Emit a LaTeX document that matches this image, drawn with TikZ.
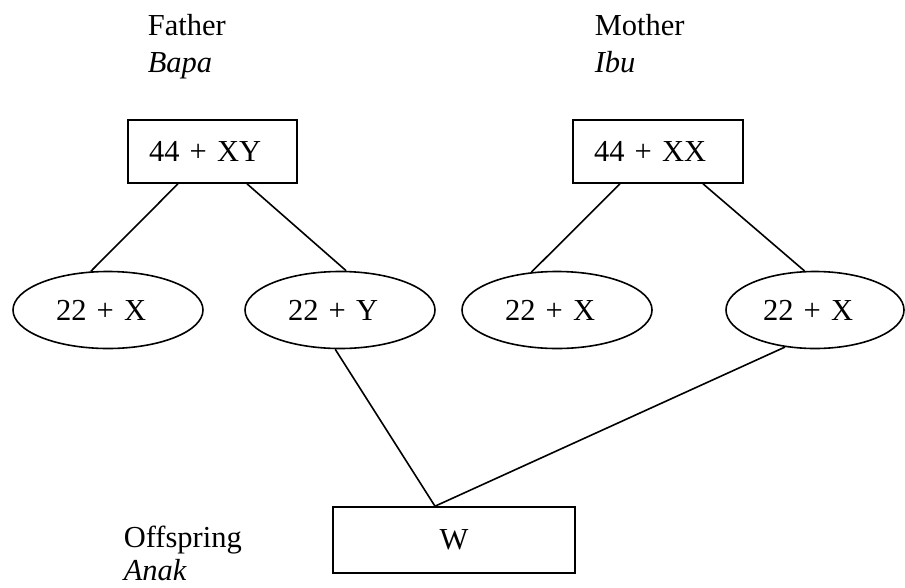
\documentclass[tikz,border=0pt]{standalone}
\usepackage{fontspec}
\setmainfont{Liberation Serif}
\usetikzlibrary{shapes.geometric}
\begin{document}
\begin{tikzpicture}[x=1pt,y=-1pt,line width=1.6pt,
  every node/.style={font=\fontsize{30.5}{37}\selectfont},
  lbl/.style={anchor=base west,inner sep=0pt},
  parentbox/.style={draw,rectangle,inner xsep=21pt,inner ysep=0pt,minimum height=63pt,text width=#1,align=left},
  gamete/.style={draw,ellipse,inner sep=0pt,minimum width=#1,minimum height=77pt,text width=104pt,align=left},
  childbox/.style={draw,rectangle,minimum width=242pt,minimum height=66pt}]
\useasboundingbox (0,0) rectangle (905,587);
% labels
\node[lbl] (father) at (147,35) {Father};
\node[lbl] (bapa) at (147,72) {\itshape Bapa};
\node[lbl] (mother) at (594,35) {Mother};
\node[lbl] (ibu) at (594,72) {\itshape Ibu};
\node[lbl] (offspring) at (123,547) {Offspring};
\node[lbl] (anak) at (123,580) {\itshape Anak};
% parents
\node[parentbox=127pt] (b1) at (212.5,151.5) {44 + XY};
\node[parentbox=128pt] (b2) at (658,151.5) {44 + XX};
% gametes
\node[gamete=190pt] (e1) at (108,310) {22 + X};
\node[gamete=190pt] (e2) at (340,310) {22 + Y};
\node[gamete=190pt] (e3) at (557,310) {22 + X};
\node[gamete=178pt] (e4) at (815,310) {22 + X};
% offspring
\node[childbox] (w) at (454,540) {W};
% connectors
\draw ([xshift=-34.5pt]b1.south) -- (e1.114);
\draw ([xshift=34.5pt]b1.south) -- (e2.81);
\draw ([xshift=-38pt]b2.south) -- (e3.124);
\draw ([xshift=45pt]b2.south) -- (e4.105);
\draw (e2.-97) -- ([xshift=-19pt]w.north);
\draw (e4.231) -- ([xshift=-19pt]w.north);
\end{tikzpicture}
\end{document}
